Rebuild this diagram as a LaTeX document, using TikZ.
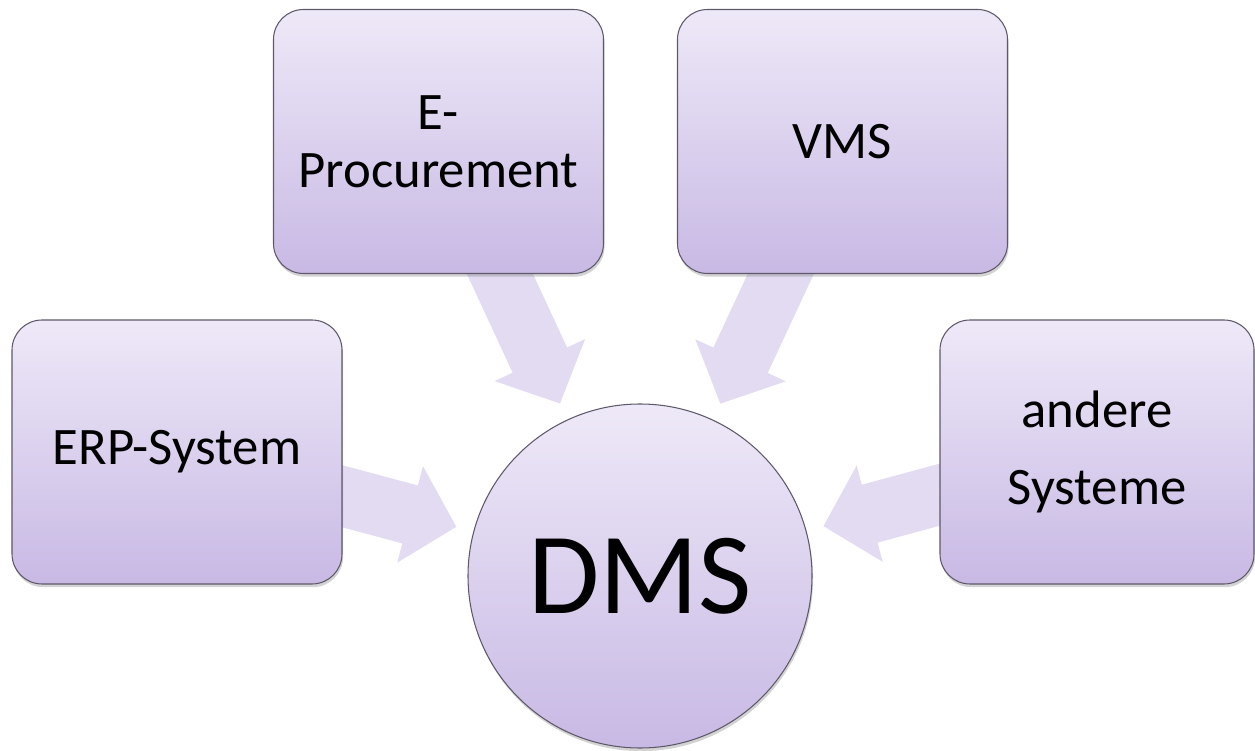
\documentclass[tikz,border=0pt]{standalone}
\usepackage{fontspec}
\setmainfont{Carlito}
\usetikzlibrary{arrows.meta,calc,shadows,backgrounds}
\definecolor{boxtop}{RGB}{238,233,248}
\definecolor{boxbottom}{RGB}{200,185,228}
\definecolor{flowfill}{RGB}{226,219,242}
\definecolor{boxline}{RGB}{95,88,105}

\begin{document}
\begin{tikzpicture}[
    sysbox/.style={draw=boxline, line width=0.6pt, rounded corners=0.6cm,
      top color=boxtop, bottom color=boxbottom,
      minimum width=6.6cm, minimum height=5.28cm, align=center,
      font=\fontsize{30}{33}\selectfont,
      drop shadow={shadow xshift=0.6pt, shadow yshift=-1.8pt, opacity=0.35}},
    flow/.style={line width=1.2cm, draw=flowfill,
      -{Triangle[length=0.96cm, width=1.94cm]}}
  ]
  \useasboundingbox (0,0) rectangle (25.1,15);
  \node[sysbox] (erp) at (3.54,5.96) {ERP-System};
  \node[sysbox] (eproc) at (8.77,12.17) {E-\\Procurement};
  \node[sysbox] (vms) at (16.85,12.17) {VMS};
  \node[sysbox, minimum width=6.28cm, font=\fontsize{30}{44}\selectfont]
    (other) at (21.94,5.96) {andere\\Systeme};
  \node[circle, draw=boxline, line width=0.6pt,
    top color=boxtop, bottom color=boxbottom, minimum size=6.88cm,
    font=\fontsize{66}{70}\selectfont,
    drop shadow={shadow xshift=0.6pt, shadow yshift=-1.8pt, opacity=0.35}]
    (dms) at (12.8,3.48) {DMS};
  % block arrows behind the boxes
  \begin{scope}[on background layer]
    \foreach \src in {erp,eproc,vms,other}
      \draw[flow] (\src.center) -- ($(dms.center)!3.8cm!(\src.center)$);
  \end{scope}
\end{tikzpicture}
\end{document}
